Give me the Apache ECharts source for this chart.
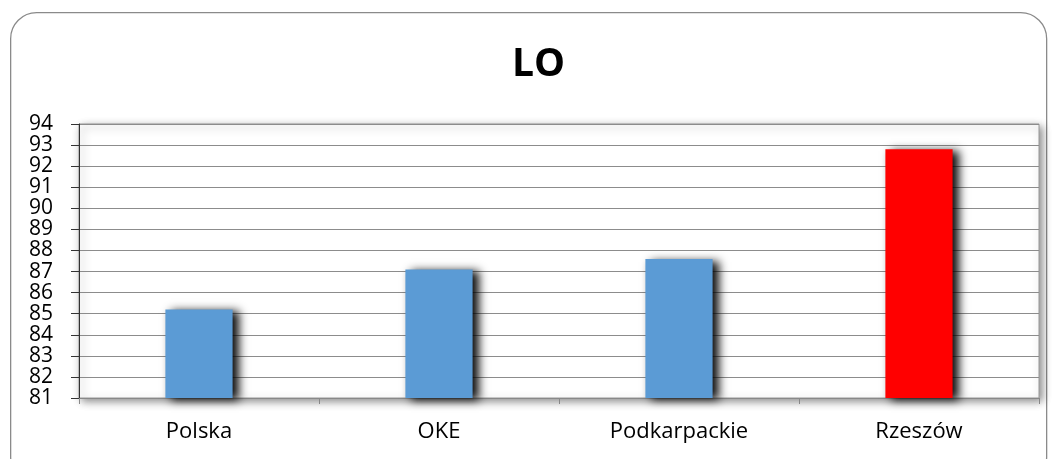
<!DOCTYPE html>
<html><head><meta charset="utf-8">
<script src="https://cdn.jsdelivr.net/npm/echarts@6/dist/echarts.min.js"></script>
<style>html,body{margin:0;padding:0;background:#fff}#c{width:1056px;height:459px}</style>
</head><body><div id="c"></div>
<script>
const categories = ['Polska', 'OKE', 'Podkarpackie', 'Rzeszów'];
const values = [85.2, 87.1, 87.6, 92.8];
const barColors = ['#5b9bd5', '#5b9bd5', '#5b9bd5', '#ff0000'];
const yMin = 81, yMax = 94, yStep = 1;
const title = 'LO';

const chart = echarts.init(document.getElementById('c'));
const font = 'Open Sans, Liberation Sans, sans-serif';
chart.setOption({
  animation: false,
  backgroundColor: '#fff',
  graphic: [{
    type: 'rect', left: 10, top: 12, z: -10,
    shape: { width: 1036, height: 470, r: 26 },
    style: { fill: '#fff', stroke: '#8a8a8a', lineWidth: 1.3 }
  }],
  title: {
    text: title, left: 507, top: 40,
    textStyle: { fontFamily: font, fontSize: 39, fontWeight: 'bold', color: '#000' }
  },
  grid: {
    left: 79, right: 17, top: 124, bottom: 61,
    show: true, backgroundColor: '#fff', borderColor: '#999', borderWidth: 1,
    shadowColor: 'rgba(0,0,0,0.45)', shadowBlur: 8, shadowOffsetX: 3, shadowOffsetY: 3
  },
  xAxis: {
    type: 'category', data: categories,
    axisLine: { show: true, lineStyle: { color: '#888', width: 1 } },
    axisTick: { show: true, length: 6, lineStyle: { color: '#888' } },
    axisLabel: { fontFamily: font, fontSize: 22, color: '#000', margin: 23 }
  },
  yAxis: {
    type: 'value', min: yMin, max: yMax, interval: yStep,
    axisLine: { show: true, lineStyle: { color: '#333', width: 1 } },
    axisTick: { show: true, length: 8, lineStyle: { color: '#333' } },
    axisLabel: { fontFamily: font, fontSize: 21, color: '#000', margin: 26, lineHeight: 21 },
    splitLine: { show: true, lineStyle: { color: '#8c8c8c', width: 1 } }
  },
  series: [{
    type: 'bar', barWidth: '28%',
    data: values.map((v, i) => ({ value: v, itemStyle: { color: barColors[i] } })),
    itemStyle: {
      shadowColor: 'rgba(0,0,0,0.95)', shadowBlur: 9, shadowOffsetX: 6, shadowOffsetY: 2
    }
  }]
});
</script></body></html>
